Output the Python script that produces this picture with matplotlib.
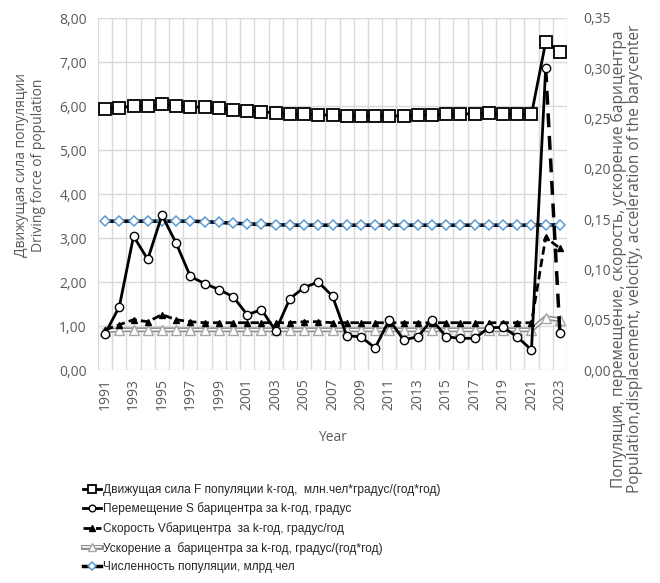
import matplotlib.pyplot as plt
from matplotlib import font_manager
from matplotlib.ticker import FuncFormatter, MultipleLocator

years = list(range(1991, 2024))

# left axis: driving force F
force_F = [5.93, 5.96, 6.00, 6.00, 6.04, 6.01, 5.98, 5.97, 5.95, 5.92, 5.89, 5.87,
           5.84, 5.82, 5.81, 5.80, 5.79, 5.78, 5.77, 5.77, 5.77, 5.78, 5.79, 5.80,
           5.81, 5.82, 5.82, 5.83, 5.82, 5.81, 5.81, 7.45, 7.23]

# right axis
displacement_S = [0.036, 0.063, 0.133, 0.110, 0.154, 0.126, 0.093, 0.086, 0.080, 0.073,
                  0.055, 0.060, 0.039, 0.071, 0.082, 0.0875, 0.0735, 0.034, 0.033, 0.022,
                  0.050, 0.030, 0.033, 0.050, 0.033, 0.0315, 0.0315, 0.042, 0.0425, 0.033,
                  0.020, 0.300, 0.037]
velocity_V = [0.040, 0.045, 0.050, 0.048, 0.055, 0.050, 0.048, 0.047, 0.047, 0.047,
              0.047, 0.047, 0.047, 0.047, 0.048, 0.048, 0.047, 0.047, 0.047, 0.047,
              0.047, 0.047, 0.047, 0.047, 0.047, 0.047, 0.047, 0.047, 0.047, 0.047,
              0.047, 0.132, 0.121]
accel_a = [0.039, 0.040, 0.040, 0.040, 0.040, 0.040, 0.040, 0.040, 0.040, 0.040,
           0.040, 0.040, 0.040, 0.040, 0.040, 0.040, 0.040, 0.040, 0.040, 0.040,
           0.040, 0.040, 0.040, 0.040, 0.040, 0.040, 0.040, 0.040, 0.040, 0.040,
           0.040, 0.052, 0.050]
population = [0.148, 0.148, 0.148, 0.148, 0.148, 0.148, 0.148, 0.1475, 0.1467, 0.146,
              0.1453, 0.1448, 0.1444, 0.1441, 0.1440, 0.1440, 0.1440, 0.1440, 0.1440, 0.1440,
              0.1440, 0.1440, 0.1440, 0.1440, 0.1440, 0.1440, 0.1440, 0.1440, 0.1440, 0.1440,
              0.1441, 0.1442, 0.1443]

labels = ['Движущая сила F популяции k-год,  млн.чел*градус/(год*год)',
          'Перемещение S барицентра за k-год, градус',
          'Скорость Vбарицентра  за k-год, градус/год',
          'Ускорение а  барицентра за k-год, градус/(год*год)',
          'Численность популяции, млрд.чел']

plt.rcParams['font.family'] = ['Open Sans', 'DejaVu Sans']
grey = '#595959'

# legend font: narrow if there is one, else Arial-like at smaller size
try:
    font_manager.findfont('Liberation Sans Narrow', fallback_to_default=False)
    leg_font = {'family': ['Liberation Sans Narrow', 'DejaVu Sans'], 'size': 10}
except ValueError:
    leg_font = {'family': ['Liberation Sans', 'DejaVu Sans'], 'size': 8.6}

x = list(range(len(years)))

fig = plt.figure(figsize=(6.6, 5.83), dpi=100)
ax = fig.add_axes([98/660, 1-370/583, (567-98)/660, (370-18)/583])
ax2 = ax.twinx()

hF, = ax.plot(x, force_F, color='black', lw=2, marker='s', ms=8,
              mfc='white', mec='black', mew=1.3, zorder=3)

hP, = ax2.plot(x, population, color='black', lw=2.5, marker='D', ms=5.5,
               mfc='white', mec='#5b9bd5', mew=1.1, zorder=2)
a1, = ax2.plot(x, accel_a, color='#8c8c8c', lw=3.5, zorder=3)
a2, = ax2.plot(x, accel_a, color='white', lw=1.2, zorder=3)
a3, = ax2.plot(x, accel_a, ls='none', marker='^', ms=7,
               mfc='white', mec='#a6a6a6', mew=1, zorder=3)
hV, = ax2.plot(x, velocity_V, color='black', lw=2, ls=(0, (3, 1.5)), marker='^', ms=5,
               mfc='black', mec='black', zorder=4)
hS, = ax2.plot(x[:-1], displacement_S[:-1], color='black', lw=2, marker='o', ms=6,
               mfc='white', mec='black', mew=1, zorder=5)
ax2.plot(x[-2:], displacement_S[-2:], color='black', lw=2.5, ls=(0, (4, 2.5)), zorder=4)
ax2.plot(x[-1:], displacement_S[-1:], ls='none', marker='o', ms=6,
         mfc='white', mec='black', mew=1, zorder=5)

ax.set_xlim(-0.5, len(years) - 0.5)
ax.set_ylim(0, 8)
ax2.set_ylim(0, 0.35)
ax.yaxis.set_major_locator(MultipleLocator(1))
ax2.yaxis.set_major_locator(MultipleLocator(0.05))
ax.yaxis.set_major_formatter(FuncFormatter(lambda v, p: f'{v:.2f}'.replace('.', ',')))
ax2.yaxis.set_major_formatter(FuncFormatter(lambda v, p: f'{v:.2f}'.replace('.', ',')))

ax.set_xticks(x[::2])
ax.set_xticklabels([str(y) for y in years[::2]], rotation=90)
ax.set_xticks([i - 0.5 for i in range(len(years) + 1)], minor=True)
ax.grid(which='minor', axis='x', color='#d9d9d9', lw=1)
ax.grid(which='major', axis='y', color='#d9d9d9', lw=1)
ax.set_axisbelow(True)

for a in (ax, ax2):
    for s in a.spines.values():
        s.set_visible(False)
    a.tick_params(which='both', length=0, colors=grey, labelsize=10)
ax.tick_params(axis='y', pad=8)
ax2.tick_params(axis='y', pad=12)
ax.tick_params(axis='x', pad=6)

ax.set_xlabel('Year', color=grey, fontsize=10, labelpad=14)
fig.text(30/660, 1-165/583,
         'Движущая сила популяции\nDriving force of population',
         rotation=90, ha='center', va='center', color=grey, fontsize=10, linespacing=1.1)
fig.text(627/660, 1-259/583,
         'Популяция, перемещение, скорость, ускорение барицентра\n'
         'Population,displacement, velocity, acceleration of the barycenter',
         rotation=90, ha='center', va='center', color=grey, fontsize=11.2, linespacing=1.05)

leg = fig.legend([hF, hS, hV, (a1, a2, a3), hP], labels,
                 loc='upper left', bbox_to_anchor=(78/660, 1-479/583),
                 frameon=False, handlelength=1.5, handletextpad=0.2, markerscale=0.8,
                 labelspacing=0.56, borderaxespad=0, prop=leg_font)
for t in leg.get_texts():
    t.set_color('#262626')

fig.savefig('out.png', dpi=100)
